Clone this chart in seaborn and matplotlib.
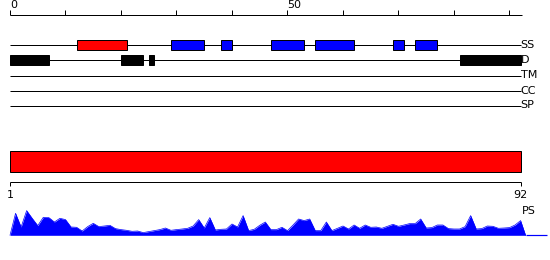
import matplotlib
matplotlib.use("Agg")
import matplotlib.pyplot as plt
import seaborn as sns
import numpy as np
import pandas as pd

sns.set_theme(style="white")
plt.rcParams['font.family'] = ['DejaVu Sans']

# ---------------- data ----------------
seq_len = 92
track_names = ["SS", "D", "TM", "CC", "SP"]

# secondary structure segments (start, end) in residue units
ss_helix_start = [12]
ss_helix_end = [21]
ss_strand_start = [29, 38, 47, 55, 69, 73]
ss_strand_end = [35, 40, 53, 62, 71, 77]

# disorder segments
dis_start = [0, 20, 25, 81]
dis_end = [7, 24, 26, 92]

top_ticks = [0, 10, 20, 30, 40, 50, 60, 70, 80, 90]
top_tick_labels = {0: "0", 50: "50"}
bottom_tick_pos = [0, 92]
bottom_tick_labels = ["1", "92"]

# per-residue PS score (residues 1..92)
ps_values = [22, 8.3, 24.7, 17, 9.7, 18, 17.7, 13.3, 17, 15.7,
             8.3, 8, 4.3, 8.7, 12, 8.7, 9.3, 10, 6.7, 5.7,
             5, 4, 4.3, 2.7, 3.7, 4.7, 5.7, 7.3, 5, 5.7,
             6.3, 7, 9.3, 15.7, 7.3, 17.7, 5.3, 6, 6.3, 11.3,
             8.3, 19.7, 4.7, 6, 10, 13.3, 5.7, 5.7, 8, 4.7,
             10.3, 16.3, 14.7, 16.3, 4.7, 4.7, 13.3, 4.7, 7, 9.3,
             6.3, 10.3, 7, 10.3, 8, 8.3, 7, 9, 11, 9,
             10.3, 11.7, 11.7, 16.3, 7.3, 7.7, 10.3, 10.3, 6.7, 6.3,
             6.3, 8.7, 19.7, 6.3, 6.7, 9.3, 9, 7, 7.3, 7.7,
             10.3, 14.7]

# ---------------- layout ----------------
W, H = 550, 260
S = 5.55          # px per residue
X0 = 10           # px of residue 0
xlim = (-X0 / S, (W - X0) / S)
px = 0.72         # 1 pixel in points

fig = plt.figure(figsize=(W / 100, H / 100), dpi=100)
ax = fig.add_axes([0, 0, 1, 1])
ax.set_xlim(*xlim)
ax.set_ylim(H, 0)
ax.axis("off")

fs = 8
track_y = {"SS": 45, "D": 60, "TM": 75.5, "CC": 90.5, "SP": 105.5}

# top ruler
ax.hlines(15, 0, seq_len + 0.2, color="black", lw=px)
ax.vlines(top_ticks, 10, 15, color="black", lw=px)
for t, lab in top_tick_labels.items():
    ax.text(t, 5, lab, ha="left", va="center", fontsize=fs, color="black")

# tracks
for name in track_names:
    y = track_y[name]
    ax.hlines(y, 0, seq_len, color="black", lw=px, zorder=1)
    ax.text(seq_len, y, name, ha="left", va="center", fontsize=fs, color="black")

# SS features
ax.barh([track_y["SS"]] * len(ss_helix_start),
        np.array(ss_helix_end) - np.array(ss_helix_start), left=ss_helix_start,
        height=10, color="#ff0000", edgecolor="black", linewidth=px, zorder=2)
ax.barh([track_y["SS"]] * len(ss_strand_start),
        np.array(ss_strand_end) - np.array(ss_strand_start), left=ss_strand_start,
        height=10, color="#0000ff", edgecolor="black", linewidth=px, zorder=2)
# disorder
ax.barh([track_y["D"]] * len(dis_start),
        np.array(dis_end) - np.array(dis_start), left=dis_start,
        height=10, color="black", edgecolor="black", linewidth=px, zorder=2)

# big domain bar
ax.barh([161], [seq_len], left=[0], height=21, color="#ff0000",
        edgecolor="black", linewidth=px, zorder=2)

# bottom ruler
ax.hlines(182, 0, seq_len, color="black", lw=px)
ax.vlines(bottom_tick_pos, 182, 186, color="black", lw=px)
for p, lab in zip(bottom_tick_pos, bottom_tick_labels):
    ax.text(p, 195, lab, ha="center", va="center", fontsize=fs, color="black")

ax.text(seq_len + 0.2, 211, "PS", ha="left", va="center", fontsize=fs, color="black")

# PS area
ax_ps = fig.add_axes([0, (H - 240) / H, 1, 40 / H])
ax_ps.set_xlim(*xlim)
ax_ps.set_ylim(-4.7, 35.3)
ax_ps.axis("off")
pos = np.arange(0, seq_len + 1)
vals = np.array([0] + ps_values)
pos_full = np.append(pos, seq_len + 0.9)
vals_full = np.append(vals, 0)
df = pd.DataFrame({"pos": pos_full, "ps": vals_full})
sns.lineplot(data=df, x="pos", y="ps", ax=ax_ps, color="#0000ff", lw=0.5)
ax_ps.fill_between(df["pos"], 0, df["ps"], color="#0000ff", lw=0)
ax_ps.hlines(0, seq_len + 0.9, (546.7 - X0) / S, color="#0000ff", lw=px * 1.2)

fig.savefig("out.png", dpi=100)
